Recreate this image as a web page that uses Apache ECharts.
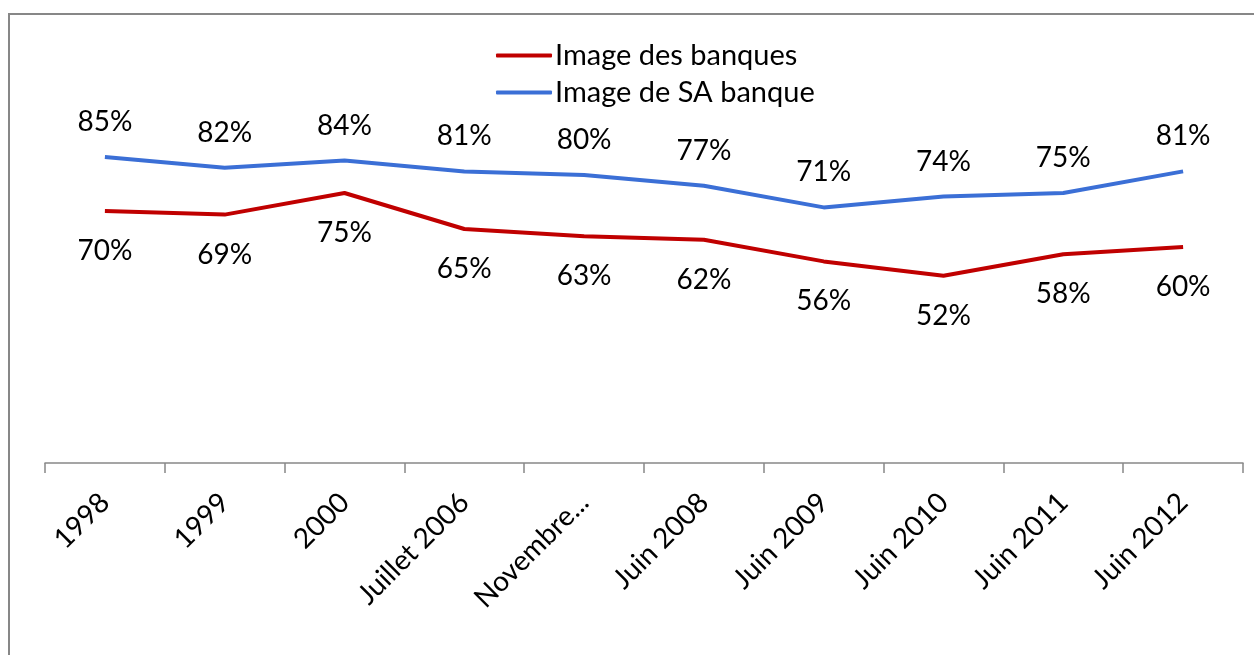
<!DOCTYPE html>
<html>
<head>
<meta charset="utf-8">
<script src="https://cdn.jsdelivr.net/npm/echarts@6/dist/echarts.min.js"></script>
<style>
  html, body { margin: 0; padding: 0; background: #fff; }
  #main { width: 1254px; height: 655px; }
</style>
</head>
<body>
<div id="main"></div>
<script>
var chartDom = document.getElementById('main');
var myChart = echarts.init(chartDom, null, { renderer: 'canvas' });

const categories = ['1998', '1999', '2000', 'Juillet 2006', 'Novembre...', 'Juin 2008', 'Juin 2009', 'Juin 2010', 'Juin 2011', 'Juin 2012'];
const imageBanques = [70, 69, 75, 65, 63, 62, 56, 52, 58, 60];
const imageSaBanque = [85, 82, 84, 81, 80, 77, 71, 74, 75, 81];

const font = 'Lato';
const pct = (p) => p.value + '%';

var option = {
    animation: false,
    backgroundColor: '#fff',
    textStyle: { fontFamily: font },
    graphic: [{
        type: 'rect',
        shape: { x: 9, y: 14, width: 1400, height: 800 },
        style: { fill: 'none', stroke: '#878787', lineWidth: 2 },
        silent: true
    }],
    legend: {
        orient: 'vertical',
        left: 491,
        top: 36,
        icon: 'roundRect',
        itemWidth: 56,
        itemHeight: 4,
        itemGap: 8,
        textStyle: { fontSize: 29, color: '#000', fontFamily: font, padding: [0, 0, 0, -2] },
        data: ['Image des banques', 'Image de SA banque']
    },
    grid: { left: 45, right: 11, top: 103, bottom: 192, containLabel: false },
    xAxis: {
        type: 'category',
        data: categories,
        axisLine: { lineStyle: { color: '#888', width: 1.5 } },
        axisTick: { show: true, length: 10, lineStyle: { color: '#888', width: 1.5 } },
        axisLabel: { rotate: 45, interval: 0, margin: 35, fontSize: 28, color: '#000', fontFamily: font }
    },
    yAxis: {
        type: 'value',
        min: 0,
        max: 100,
        show: false,
        splitLine: { show: false }
    },
    series: [{
        name: 'Image des banques',
        type: 'line',
        data: imageBanques,
        symbol: 'circle',
        symbolSize: 0.1,
        showSymbol: true,
        color: '#C00000',
        lineStyle: { width: 4, color: '#C00000' },
        label: { show: true, position: 'bottom', distance: 26, formatter: pct, fontSize: 28, color: '#000', fontFamily: font }
    }, {
        name: 'Image de SA banque',
        type: 'line',
        data: imageSaBanque,
        symbol: 'circle',
        symbolSize: 0.1,
        showSymbol: true,
        color: '#3B6FD6',
        lineStyle: { width: 4, color: '#3B6FD6' },
        label: { show: true, position: 'top', distance: 21, formatter: pct, fontSize: 28, color: '#000', fontFamily: font }
    }]
};
myChart.setOption(option);
</script>
</body>
</html>
